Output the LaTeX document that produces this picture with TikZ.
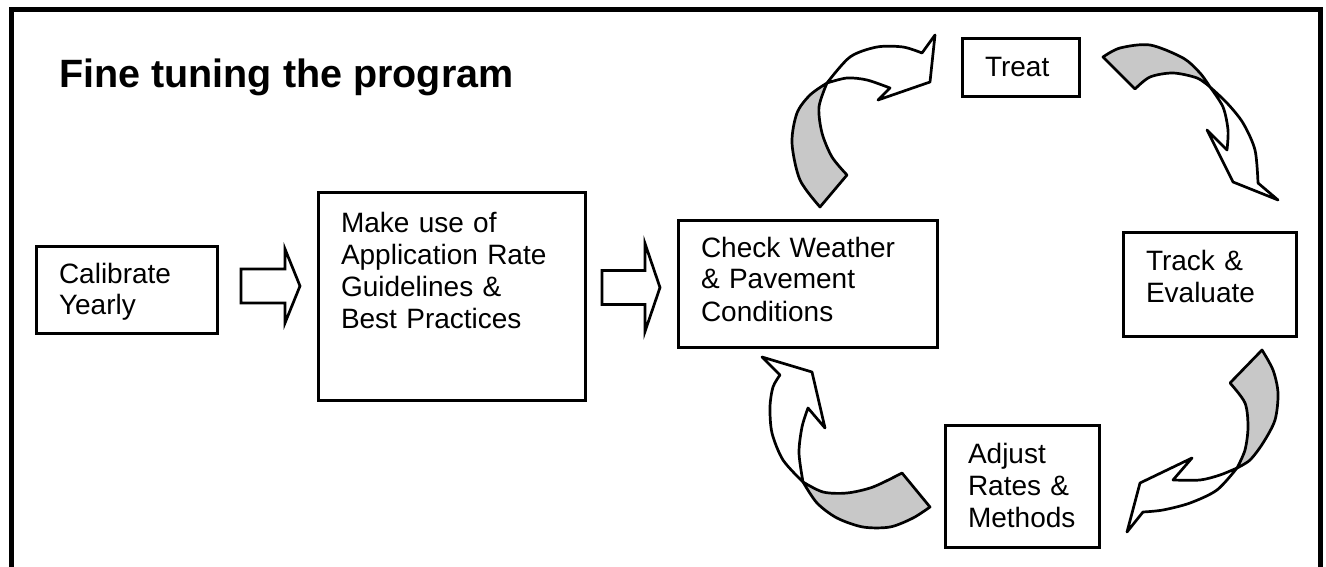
\documentclass[tikz,border=0pt]{standalone}
\usepackage{fontspec}
\setmainfont{Liberation Sans}
\usetikzlibrary{calc}
\tikzset{>=latex}
\definecolor{backside}{RGB}{200,200,200}
\tikzset{
	box/.style={draw, line width=3pt, inner xsep=23pt, inner ysep=0pt, outer sep=0pt, align=left, anchor=base west, font=\fontsize{28}{32}\selectfont},
	hollow/.style={draw, fill=white, line width=2.7pt, line join=miter},
	ribbon/.style={draw, line width=2.7pt, line join=round},
}

\begin{document}
\begin{tikzpicture}[x=1pt, y=-1pt]
		\useasboundingbox (0,0) rectangle (1326,567);

		% Frame
		\draw[line width=5pt] (11.5,567) -- (11.5,10) -- (1320.5,10) -- (1320.5,567);

		% Title
		\node[anchor=base west, inner sep=0pt, font=\fontsize{39.5}{44}\selectfont\bfseries] (title) at (59,88) {Fine tuning the program};

		% Boxes
		\node[box, text width=135pt, text height=37pt, text depth=50pt] (calibrate) at (36,283) {Calibrate\\Yearly};
		\node[box, text width=221pt, text height=40pt, text depth=167pt] (make) at (318,233) {Make use of\\Application Rate\\Guidelines \&\\Best Practices};
		\node[box, text width=213pt, text height=37pt, text depth=90pt] (check) at (678,257) {Check Weather\\\& Pavement\\Conditions};
		\node[box, text width=71pt, text height=38pt, text depth=20pt] (treat) at (962,77) {Treat};
		\node[box, text width=127pt, text height=38pt, text depth=66pt] (track) at (1123,270) {Track \&\\Evaluate};
		\node[box, text width=108pt, text height=38pt, text depth=84pt] (adjust) at (945,463) {Adjust\\Rates \&\\Methods};

		% Straight arrows
		\draw[hollow] ($(calibrate.east)+(24,-3.5)$) ++(0,-17) -- ++(44,0) -- ++(0,-20) -- ++(15,37) -- ++(-15,37) -- ++(0,-20) -- ++(-44,0) -- cycle;
		\draw[hollow] ($(make.east)+(17,-9)$) ++(0,-17) -- ++(43,0) -- ++(0,-27) -- ++(15,44) -- ++(-15,44) -- ++(0,-27) -- ++(-43,0) -- cycle;

		% Cycle arrows: check -> treat
		\filldraw[ribbon, fill=backside] plot[smooth] coordinates {(820,207) (800,180) (792,143) (797,113) (810,95) (827,83)} -- plot[smooth] coordinates {(827,83) (819,107) (822,133) (832,157) (847,175)} -- cycle;
		\filldraw[ribbon, fill=white] plot[smooth] coordinates {(827,83) (850,57) (877,47) (903,47) (922,53)} -- (935,35) -- (930,82) -- (878,100) -- plot[smooth] coordinates {(890,88) (867,80) (847,78) (827,83)} -- cycle;

		% treat -> track
		\filldraw[ribbon, fill=backside] plot[smooth] coordinates {(1103,57) (1120,48) (1150,45) (1183,58) (1200,73) (1210,87)} -- plot[smooth] coordinates {(1210,87) (1197,78) (1173,73) (1150,77) (1135,89)} -- cycle;
		\filldraw[ribbon, fill=white] plot[smooth] coordinates {(1210,87) (1227,103) (1243,123) (1255,150) (1258,183)} -- (1278,200) -- (1233,182) -- (1207,130) -- plot[smooth] coordinates {(1227,150) (1228,130) (1223,107) (1210,87)} -- cycle;

		% track -> adjust
		\filldraw[ribbon, fill=backside] plot[smooth] coordinates {(1262,350) (1273,370) (1278,393) (1275,420) (1263,443) (1250,460) (1237,468)} -- plot[smooth] coordinates {(1237,468) (1245,450) (1248,427) (1245,403) (1230,383)} -- cycle;
		\filldraw[ribbon, fill=white] plot[smooth] coordinates {(1237,468) (1217,490) (1190,503) (1163,510) (1143,512)} -- (1127,532) -- (1140,483) -- (1192,458) -- plot[smooth] coordinates {(1173,480) (1200,480) (1220,475) (1237,468)} -- cycle;

		% adjust -> check
		\filldraw[ribbon, fill=backside] plot[smooth] coordinates {(930,507) (913,518) (890,527) (863,527) (837,518) (817,503) (803,482)} -- plot[smooth] coordinates {(803,482) (823,492) (847,493) (873,487) (902,473)} -- cycle;
		\filldraw[ribbon, fill=white] plot[smooth] coordinates {(803,482) (783,460) (772,433) (770,407) (773,387) (780,375)} -- (762,357) -- (812,372) -- (825,428) -- plot[smooth] coordinates {(808,408) (802,427) (799,453) (803,482)} -- cycle;
	\end{tikzpicture}
\end{document}
